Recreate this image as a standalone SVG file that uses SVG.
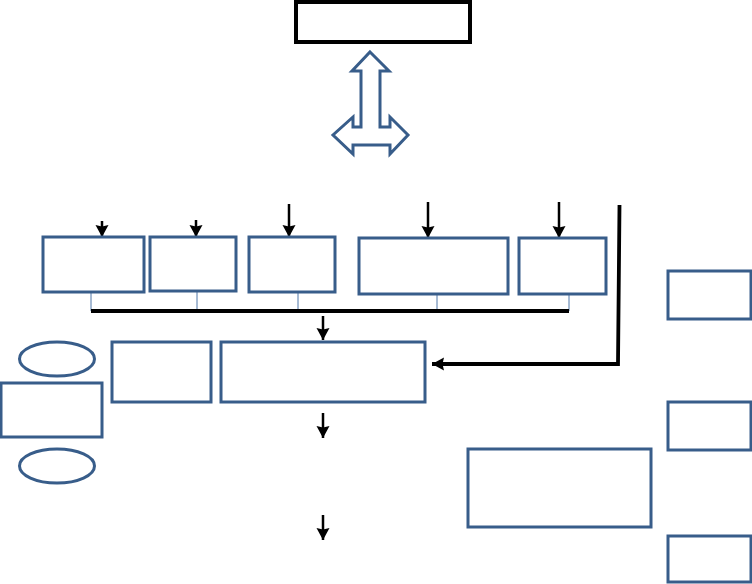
<svg xmlns="http://www.w3.org/2000/svg" width="752" height="584" viewBox="0 0 752 584">
<style>
.box{fill:#fff;stroke:#385d8a;stroke-width:3}
.ell{fill:#fff;stroke:#385d8a;stroke-width:3}
.top{fill:#fff;stroke:#000;stroke-width:4}
.arr{fill:none;stroke:#000;stroke-width:2.5}
.thin{fill:none;stroke:#4f77a8;stroke-width:1}
.bar{fill:none;stroke:#000;stroke-width:4}
</style>
<defs>
<marker id="ah" markerUnits="userSpaceOnUse" markerWidth="16" markerHeight="16" refX="12" refY="7" orient="auto">
<path d="M0,0.5 L12,7 L0,13.5 L1.5,7 Z" fill="#000"/>
</marker>
<marker id="ahb" markerUnits="userSpaceOnUse" markerWidth="16" markerHeight="16" refX="12" refY="7" orient="auto">
<path d="M0,0.5 L12,7 L0,13.5 L1.5,7 Z" fill="#000"/>
</marker>
</defs>
<rect width="752" height="584" fill="#fff"/>
<g id="connectors">
<line class="arr" x1="102" y1="221" x2="102" y2="237" marker-end="url(#ah)"/>
<line class="arr" x1="196" y1="220" x2="196" y2="237" marker-end="url(#ah)"/>
<line class="arr" x1="289" y1="204" x2="289" y2="237" marker-end="url(#ah)"/>
<line class="arr" x1="428" y1="202" x2="428" y2="238" marker-end="url(#ah)"/>
<line class="arr" x1="559" y1="202" x2="559" y2="238" marker-end="url(#ah)"/>
<line class="thin" x1="91" y1="292" x2="91" y2="311"/>
<line class="thin" x1="197" y1="291" x2="197" y2="311"/>
<line class="thin" x1="298" y1="292" x2="298" y2="311"/>
<line class="thin" x1="437" y1="294" x2="437" y2="311"/>
<line class="thin" x1="569" y1="294" x2="569" y2="311"/>
<line class="bar" x1="91" y1="311" x2="569" y2="311"/>
<line class="arr" x1="323" y1="316" x2="323" y2="340" marker-end="url(#ah)"/>
<polyline fill="none" stroke="#000" stroke-width="3.8" points="619.5,205 618,364 432,364" marker-end="url(#ahb)"/>
<line class="arr" x1="323" y1="413" x2="323" y2="438" marker-end="url(#ah)"/>
<line class="arr" x1="323" y1="515" x2="323" y2="540" marker-end="url(#ah)"/>
</g>
<g id="n-top"><rect class="top" x="296" y="2" width="174" height="40"/></g>
<g id="n-bigarrow"><polygon fill="#fff" stroke="#385d8a" stroke-width="3" stroke-linejoin="miter" points="370,52 389,71 380,71 380,127 390,127 390,117 408,135 390,154 390,145 353,145 353,154 333,135 353,117 353,127 361,127 361,71 352,71"/></g>
<g id="n-b1"><rect class="box" x="43" y="237" width="101" height="55"/></g>
<g id="n-b2"><rect class="box" x="150" y="237" width="86" height="54"/></g>
<g id="n-b3"><rect class="box" x="249" y="237" width="86" height="55"/></g>
<g id="n-b4"><rect class="box" x="359" y="238" width="149" height="56"/></g>
<g id="n-b5"><rect class="box" x="519" y="238" width="87" height="56"/></g>
<g id="n-main"><rect class="box" x="221" y="342" width="204" height="60"/></g>
<g id="n-mid"><rect class="box" x="112" y="342" width="99" height="60"/></g>
<g id="n-ell1"><ellipse class="ell" cx="57" cy="359" rx="37.5" ry="17"/></g>
<g id="n-left"><rect class="box" x="1" y="383" width="101" height="54"/></g>
<g id="n-ell2"><ellipse class="ell" cx="57" cy="466" rx="37.5" ry="17"/></g>
<g id="n-r1"><rect class="box" x="668" y="271" width="83" height="48"/></g>
<g id="n-r2"><rect class="box" x="668" y="402" width="83" height="48"/></g>
<g id="n-r3"><rect class="box" x="668" y="536" width="83" height="46"/></g>
<g id="n-lower"><rect class="box" x="468" y="449" width="183" height="78"/></g>
</svg>
